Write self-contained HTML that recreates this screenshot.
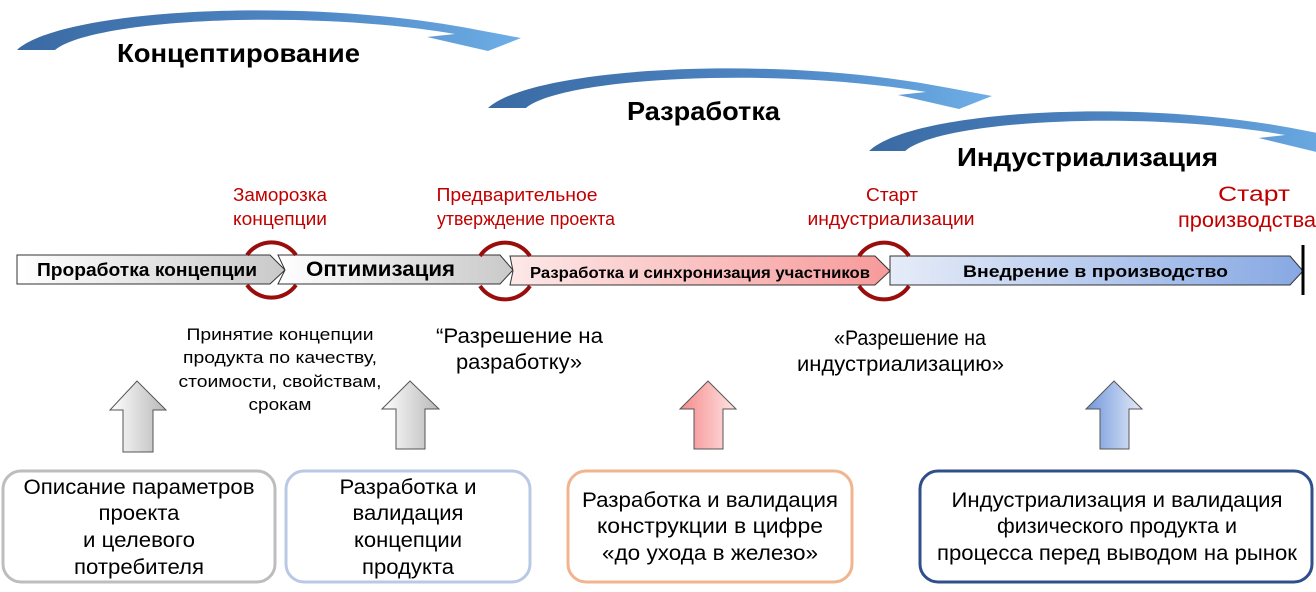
<!DOCTYPE html>
<html><head><meta charset="utf-8"><style>
html,body{margin:0;padding:0;background:#fff;}
svg{display:block;font-family:"Liberation Sans",sans-serif;}
</style></head><body>
<svg width="1316" height="592" viewBox="0 0 1316 592" xmlns="http://www.w3.org/2000/svg">
<defs>
<linearGradient id="cb" x1="0" x2="1" y1="0" y2="0"><stop offset="0" stop-color="#3a6aa3"/><stop offset="0.6" stop-color="#4f88c6"/><stop offset="1" stop-color="#6eaee6"/></linearGradient>
<linearGradient id="g1" x1="0" x2="1"><stop offset="0" stop-color="#fff"/><stop offset="1" stop-color="#c9c9c9"/></linearGradient>
<linearGradient id="g3" x1="0" x2="1"><stop offset="0" stop-color="#fde8e8"/><stop offset="1" stop-color="#f79a9a"/></linearGradient>
<linearGradient id="g4" x1="0" x2="1"><stop offset="0" stop-color="#e6ecf8"/><stop offset="1" stop-color="#87a8e3"/></linearGradient>
<linearGradient id="ag" x1="0" x2="1"><stop offset="0" stop-color="#fff"/><stop offset="1" stop-color="#b8b8b8"/></linearGradient>
<linearGradient id="ar" x1="0" x2="1"><stop offset="0" stop-color="#f58a8a"/><stop offset="1" stop-color="#ffe4e4"/></linearGradient>
<linearGradient id="ab" x1="0" x2="1"><stop offset="0" stop-color="#7096dc"/><stop offset="1" stop-color="#e4ebf8"/></linearGradient>
<path id="curve" d="M17,50 C60,10 300,-5 478,30 L521,38 L488,51 L427,37 L455,34 C300,8 90,20 55,50 Z"/>
</defs>

<use href="#curve" fill="url(#cb)"/>
<use href="#curve" fill="url(#cb)" transform="translate(471,58)"/>
<use href="#curve" fill="url(#cb)" transform="translate(853,101) scale(0.95,1)"/>

<text x="117" y="62" font-size="26" font-weight="bold" textLength="243" lengthAdjust="spacingAndGlyphs">Концептирование</text>
<text x="627" y="120" font-size="26" font-weight="bold" textLength="153" lengthAdjust="spacingAndGlyphs">Разработка</text>
<text x="957" y="166" font-size="26" font-weight="bold" textLength="261" lengthAdjust="spacingAndGlyphs">Индустриализация</text>

<g fill="#c00000" font-size="18" text-anchor="middle">
<text x="280" y="201" textLength="94" lengthAdjust="spacingAndGlyphs">Заморозка</text>
<text x="280" y="225" textLength="94" lengthAdjust="spacingAndGlyphs">концепции</text>
<text x="517" y="201" textLength="161" lengthAdjust="spacingAndGlyphs">Предварительное</text>
<text x="526" y="225" textLength="178" lengthAdjust="spacingAndGlyphs">утверждение проекта</text>
<text x="892" y="201" textLength="52" lengthAdjust="spacingAndGlyphs">Старт</text>
<text x="891" y="225" textLength="167" lengthAdjust="spacingAndGlyphs">индустриализации</text>
<text x="1254" y="201" font-size="21" textLength="72" lengthAdjust="spacingAndGlyphs">Старт</text>
<text x="1247" y="227" font-size="21" textLength="138" lengthAdjust="spacingAndGlyphs">производства</text>
</g>

<polygon points="17,255 270,255 285,270 270,284 17,284" fill="url(#g1)" stroke="#333" stroke-width="1"/>
<polygon points="278,255 500,255 513,270 500,284 278,284 285,270" fill="url(#g1)" stroke="#333" stroke-width="1"/>
<polygon points="510,256 875,256 890,271 875,285 510,285 513,271" fill="url(#g3)" stroke="#333" stroke-width="1"/>
<polygon points="890,256 1290,256 1303,271 1290,285 890,285" fill="url(#g4)" stroke="#333" stroke-width="1"/>
<line x1="1303" y1="245" x2="1303" y2="295" stroke="#000" stroke-width="3"/>

<g fill="none" stroke="#9a0d0d" stroke-width="4">
<path d="M247,255 A30,30 0 0 1 296,255"/><path d="M247,285 A30,30 0 0 0 296,285"/>
<path d="M480,256 A30,30 0 0 1 530,256"/><path d="M480,286 A30,30 0 0 0 530,286"/>
<path d="M859,256 A30,30 0 0 1 909,256"/><path d="M859,286 A30,30 0 0 0 909,286"/>
</g>

<g font-weight="bold" fill="#000">
<text x="37" y="276" font-size="18" textLength="220" lengthAdjust="spacingAndGlyphs">Проработка концепции</text>
<text x="306" y="276" font-size="21" textLength="149" lengthAdjust="spacingAndGlyphs">Оптимизация</text>
<text x="530" y="278" font-size="16" textLength="340" lengthAdjust="spacingAndGlyphs">Разработка и синхронизация участников</text>
<text x="963" y="277" font-size="17" textLength="265" lengthAdjust="spacingAndGlyphs">Внедрение в производство</text>
</g>

<g font-size="17" text-anchor="middle" fill="#000">
<text x="280" y="340" textLength="187" lengthAdjust="spacingAndGlyphs">Принятие концепции</text>
<text x="280" y="363" textLength="194" lengthAdjust="spacingAndGlyphs">продукта по качеству,</text>
<text x="280" y="387" textLength="203" lengthAdjust="spacingAndGlyphs">стоимости, свойствам,</text>
<text x="280" y="410" textLength="63" lengthAdjust="spacingAndGlyphs">срокам</text>
</g>
<g font-size="21" fill="#000">
<text x="436" y="343" textLength="167" lengthAdjust="spacingAndGlyphs">“Разрешение на</text>
<text x="456" y="369" textLength="126" lengthAdjust="spacingAndGlyphs">разработку»</text>
<text x="834" y="345" textLength="152" lengthAdjust="spacingAndGlyphs">«Разрешение на</text>
<text x="797" y="371" textLength="207" lengthAdjust="spacingAndGlyphs">индустриализацию»</text>
</g>

<polygon points="137,381 166,410 153,410 153,452 123,452 123,410 110,410" fill="url(#ag)" stroke="#555"/>
<polygon points="410,381 439,409 425,409 425,449 396,449 396,409 382,409" fill="url(#ag)" stroke="#555"/>
<polygon points="708,381 736,409 723,409 723,449 694,449 694,409 680,409" fill="url(#ar)" stroke="#555"/>
<polygon points="1114,381 1142,409 1129,409 1129,449 1100,449 1100,409 1086,409" fill="url(#ab)" stroke="#555"/>

<rect x="3" y="471" width="272" height="111" rx="18" fill="#fff" stroke="#bdbdbd" stroke-width="3"/>
<rect x="286" y="471" width="244" height="111" rx="18" fill="#fff" stroke="#b9c9e4" stroke-width="3"/>
<rect x="568" y="471" width="284" height="111" rx="18" fill="#fff" stroke="#f0b48e" stroke-width="3"/>
<rect x="920" y="471" width="392" height="111" rx="18" fill="#fff" stroke="#2f4f8a" stroke-width="3"/>

<g font-size="21" text-anchor="middle" fill="#000">
<text x="139" y="494" textLength="231" lengthAdjust="spacingAndGlyphs">Описание параметров</text>
<text x="139" y="520" textLength="81" lengthAdjust="spacingAndGlyphs">проекта</text>
<text x="139" y="547" textLength="112" lengthAdjust="spacingAndGlyphs">и целевого</text>
<text x="139" y="574" textLength="130" lengthAdjust="spacingAndGlyphs">потребителя</text>
<text x="408" y="494" textLength="137" lengthAdjust="spacingAndGlyphs">Разработка и</text>
<text x="408" y="520" textLength="111" lengthAdjust="spacingAndGlyphs">валидация</text>
<text x="408" y="547" textLength="108" lengthAdjust="spacingAndGlyphs">концепции</text>
<text x="408" y="574" textLength="92" lengthAdjust="spacingAndGlyphs">продукта</text>
<text x="710" y="507" textLength="256" lengthAdjust="spacingAndGlyphs">Разработка и валидация</text>
<text x="710" y="533" textLength="226" lengthAdjust="spacingAndGlyphs">конструкции в цифре</text>
<text x="710" y="560" textLength="216" lengthAdjust="spacingAndGlyphs">«до ухода в железо»</text>
<text x="1117" y="507" textLength="331" lengthAdjust="spacingAndGlyphs">Индустриализация и валидация</text>
<text x="1117" y="533" textLength="240" lengthAdjust="spacingAndGlyphs">физического продукта и</text>
<text x="1117" y="560" textLength="360" lengthAdjust="spacingAndGlyphs">процесса перед выводом на рынок</text>
</g>
</svg>
</body></html>
